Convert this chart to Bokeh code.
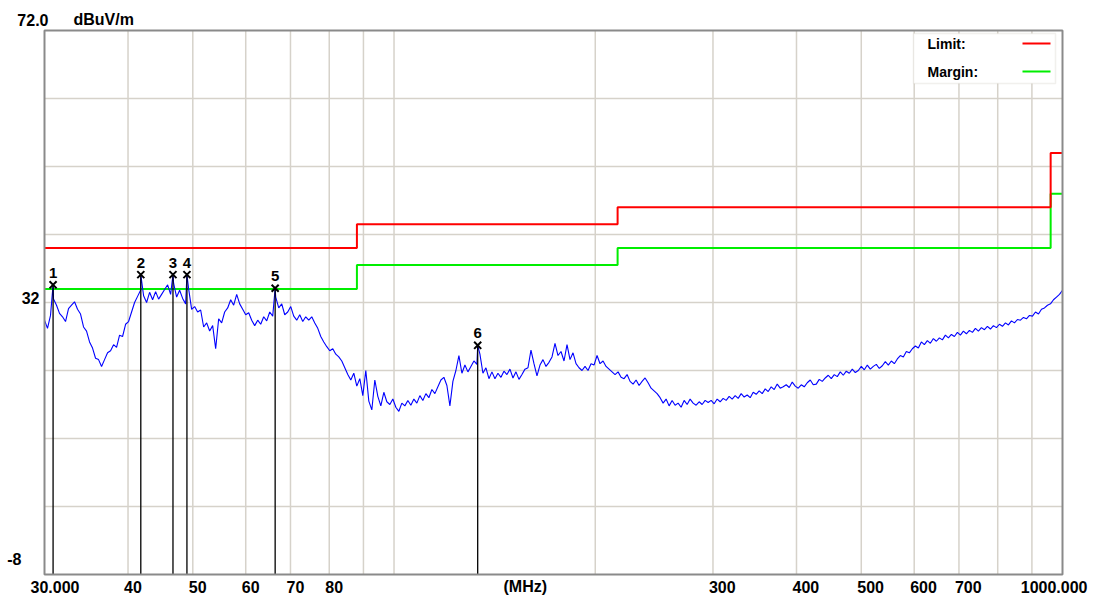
import numpy as np
from bokeh.plotting import figure
from bokeh.models import Range1d, Label, BoxAnnotation, ColumnDataSource
from bokeh.core.properties import value
from bokeh.embed import file_html
from bokeh.resources import INLINE

# ---------------- data ----------------
FREQ_START, FREQ_STOP = 30.0, 1000.0
Y_MIN, Y_MAX = -8.0, 72.0
y_unit = "dBuV/m"
x_unit = "(MHz)"

# limit (FCC class B) and margin (limit - 6 dB)
limit_freq = [30, 88, 88, 216, 216, 960, 960, 1000]
limit_level = [40, 40, 43.5, 43.5, 46, 46, 54, 54]
margin_level = [34, 34, 37.5, 37.5, 40, 40, 48, 48]

# measured sweep (dBuV/m), log-spaced sweep points from 30 to 1000 MHz
trace_level = [
    29.4, 28.2, 30.1, 32.5, 31.6, 30.4, 29.9, 29.2, 31.1, 31.6,
    32.1, 31.0, 30.3, 28.4, 27.8, 26.2, 25.3, 23.8, 23.6, 22.6,
    23.6, 24.6, 24.9, 25.8, 25.4, 27.2, 27.0, 28.8, 29.2, 30.6,
    32.0, 32.9, 33.8, 33.0, 32.0, 33.5, 32.4, 33.6, 32.5, 33.2,
    33.9, 34.6, 33.2, 34.8, 32.8, 33.8, 32.6, 31.8, 34.0, 31.0,
    31.4, 30.6, 30.9, 28.4, 29.0, 27.8, 28.6, 25.2, 29.6, 29.0,
    30.6, 31.2, 32.4, 31.6, 33.2, 31.8, 31.0, 30.2, 30.5, 29.4,
    28.6, 29.4, 28.8, 29.9, 29.3, 30.6, 30.0, 32.8, 31.2, 31.8,
    30.2, 30.6, 31.4, 30.0, 29.4, 30.2, 29.2, 29.9, 29.4, 29.9,
    29.0, 28.2, 27.0, 26.2, 25.5, 24.9, 25.2, 24.4, 24.0, 23.4,
    22.4, 21.4, 20.6, 21.6, 19.7, 20.8, 18.3, 22.0, 17.5, 16.2,
    20.6, 18.2, 16.8, 18.8, 17.4, 17.0, 17.8, 16.6, 16.0, 17.2,
    16.8, 17.6, 16.9, 17.8, 17.2, 18.3, 17.6, 18.6, 18.0, 19.2,
    18.6, 19.6, 20.6, 21.0, 19.8, 16.8, 20.4, 22.0, 24.2, 21.6,
    22.8, 21.8, 22.6, 23.4, 22.9, 24.4, 21.6, 22.4, 20.8, 21.8,
    20.8, 21.6, 21.0, 21.9, 21.4, 22.2, 20.9, 21.8, 20.7, 21.4,
    22.2, 22.4, 25.0, 23.0, 21.2, 22.8, 23.6, 22.6, 23.2, 24.0,
    26.0, 24.2, 24.8, 23.4, 25.8, 23.6, 24.6, 23.0, 22.4, 22.0,
    22.6, 22.0, 23.0, 22.8, 24.2, 23.0, 23.4, 22.6, 22.2, 21.8,
    21.4, 21.8, 21.0, 20.8, 21.4, 20.4, 20.0, 20.6, 19.8, 20.4,
    20.9, 20.2, 19.4, 19.0, 18.6, 18.0, 17.2, 17.8, 16.8, 17.6,
    16.9, 17.2, 16.6, 17.6, 17.0, 17.8, 17.2, 16.9, 17.4, 17.0,
    17.6, 17.3, 17.6, 17.1, 17.8, 17.4, 17.9, 17.6, 18.2, 17.8,
    18.3, 17.9, 18.6, 18.1, 18.4, 18.0, 18.8, 18.5, 19.0, 18.6,
    19.3, 18.9, 19.6, 19.2, 20.0, 19.4, 19.6, 19.9, 19.5, 20.3,
    19.7, 19.4, 19.9, 19.6, 20.2, 20.6, 19.9, 20.0, 20.7, 20.4,
    20.9, 21.3, 20.8, 21.4, 21.1, 21.8, 21.3, 21.9, 21.6, 22.2,
    21.7, 22.0, 22.6, 22.1, 22.8, 22.2, 22.6, 22.9, 22.3, 22.7,
    23.3, 22.8, 23.4, 23.0, 23.7, 24.2, 24.0, 24.8, 24.6, 25.2,
    25.6, 25.3, 26.2, 25.8, 26.4, 26.0, 26.7, 26.3, 26.8, 26.5,
    27.2, 26.8, 27.3, 27.0, 27.6, 27.2, 27.8, 27.4, 27.9, 27.6,
    28.2, 27.8, 28.3, 28.0, 28.5, 28.1, 28.6, 28.3, 28.8, 28.5,
    29.0, 28.7, 29.3, 29.0, 29.5, 29.4, 29.8, 29.6, 30.1, 30.0,
    30.6, 30.3, 31.0, 31.2, 31.6, 31.8, 32.4, 32.8, 33.2, 33.8,
]

# peak markers
marker_no = ["1", "2", "3", "4", "5", "6"]
marker_freq = [30.9, 41.8, 46.7, 49.0, 66.4, 133.4]
marker_level = [34.6, 36.1, 36.1, 36.1, 34.1, 25.7]

# grid and tick labels
x_grid = [40, 50, 60, 70, 80, 90, 100, 200, 300, 400, 500, 600, 700, 800, 900]
y_grid = [2, 12, 22, 32, 42, 52, 62]
x_tick_values = [30, 40, 50, 60, 70, 80, 300, 400, 500, 600, 700, 1000]
x_tick_labels = ["30.000", "40", "50", "60", "70", "80", "300", "400", "500", "600", "700", "1000.000"]
y_tick_labels = ["72.0", "32", "-8"]

# ---------------- layout (pixels on the page) ----------------
W, H = 1098, 599
PX_L, PX_R, PY_T, PY_B = 44, 1062, 30, 574
dec_per_px = np.log10(FREQ_STOP / FREQ_START) / (PX_R - PX_L)
db_per_px = (Y_MAX - Y_MIN) / (PY_B - PY_T)
x_lo = FREQ_START * 10 ** (-PX_L * dec_per_px)
x_hi = FREQ_STOP * 10 ** ((W - PX_R) * dec_per_px)
y_lo = Y_MIN - (H - PY_B) * db_per_px
y_hi = Y_MAX + PY_T * db_per_px

def sx(px): return px
def sy(py): return H - py

# ---------------- build ----------------
sweep_freq = np.geomspace(FREQ_START, FREQ_STOP, len(trace_level))
all_f = np.concatenate([sweep_freq, marker_freq])
all_l = np.concatenate([trace_level, marker_level])
order = np.argsort(all_f)
trace_src = ColumnDataSource(dict(f=all_f[order], l=all_l[order]))

p = figure(width=W, height=H, x_axis_type="log",
           x_range=Range1d(x_lo, x_hi), y_range=Range1d(y_lo, y_hi),
           output_backend="svg", toolbar_location=None,
           x_axis_location=None, y_axis_location=None,
           min_border=0)
p.background_fill_color = "white"
p.border_fill_color = "white"
p.outline_line_color = None
p.xgrid.visible = False
p.ygrid.visible = False

GRID = "#d6d2ca"
p.segment(x0=x_grid, y0=[Y_MIN] * len(x_grid), x1=x_grid, y1=[Y_MAX] * len(x_grid),
          line_color=GRID, line_width=1.5)
p.segment(x0=[FREQ_START] * len(y_grid), y0=y_grid, x1=[FREQ_STOP] * len(y_grid), y1=y_grid,
          line_color=GRID, line_width=1.5)

FONT_NAME = "Liberation Sans"
FONT = value(FONT_NAME)

p.line(limit_freq, margin_level, line_color="#00ee00", line_width=2)
p.line(limit_freq, limit_level, line_color="#ff0000", line_width=2)
p.line("f", "l", source=trace_src, line_color="#0000ff", line_width=1.1)

mk = ColumnDataSource(dict(f=marker_freq, l=marker_level, bottom=[Y_MIN] * len(marker_freq), n=marker_no))
p.segment(x0="f", y0="l", x1="f", y1="bottom", source=mk, line_color="#000000", line_width=1.3)
p.scatter(x="f", y="l", source=mk, marker="x", size=10, line_color="#000000", line_width=2)
p.text(x="f", y="l", text="n", source=mk, text_font=FONT, text_font_style="bold",
       text_font_size="15px", text_align="center", text_baseline="middle",
       y_offset=-12, text_color="#000000")

# plot-area frame
p.quad(left=[FREQ_START], right=[FREQ_STOP], bottom=[Y_MIN], top=[Y_MAX],
       fill_alpha=0, line_color="#8a8a8a", line_width=2)

def lab(text, x, y, align="left", size="16px", xu="screen", xo=0):
    p.add_layout(Label(text=text, x=x, y=y, x_units=xu, y_units="screen", x_offset=xo,
                       text_font=FONT_NAME, text_font_style="bold", text_font_size=size,
                       text_align=align, text_baseline="middle", text_color="#000000"))

# y labels
lab(y_tick_labels[0], sx(48), sy(19), align="right")
lab(y_unit, sx(73), sy(19))
lab(y_tick_labels[1], sx(39), sy(297), align="right")
lab(y_tick_labels[2], sx(21), sy(558), align="right")

# x labels
for v, t in zip(x_tick_values, x_tick_labels):
    if t == x_tick_labels[0]:
        lab(t, v, sy(586), align="left", xu="data", xo=-14)
    elif t == x_tick_labels[-1]:
        lab(t, v, sy(586), align="right", xu="data", xo=25)
    else:
        lab(t, v, sy(586), align="left", xu="data", xo=-4)
lab(x_unit, sx(503), sy(586))

# legend box
BOX = dict(left_units="screen", right_units="screen", top_units="screen", bottom_units="screen")
p.add_layout(BoxAnnotation(left=sx(913), right=sx(1055), top=sy(33), bottom=sy(83),
                           fill_color="white", fill_alpha=1, line_color="#d0ccc4", line_width=1.5, **BOX))
lab("Limit:", sx(927), sy(43), size="14px")
lab("Margin:", sx(927), sy(71), size="14px")
for py, col in ((43, "#ff0000"), (71, "#00ee00")):
    p.add_layout(BoxAnnotation(left=sx(1022), right=sx(1050), top=sy(py - 1), bottom=sy(py + 1),
                               fill_color=col, fill_alpha=1, line_alpha=0, **BOX))

open("out.html", "w").write(file_html(p, INLINE))
